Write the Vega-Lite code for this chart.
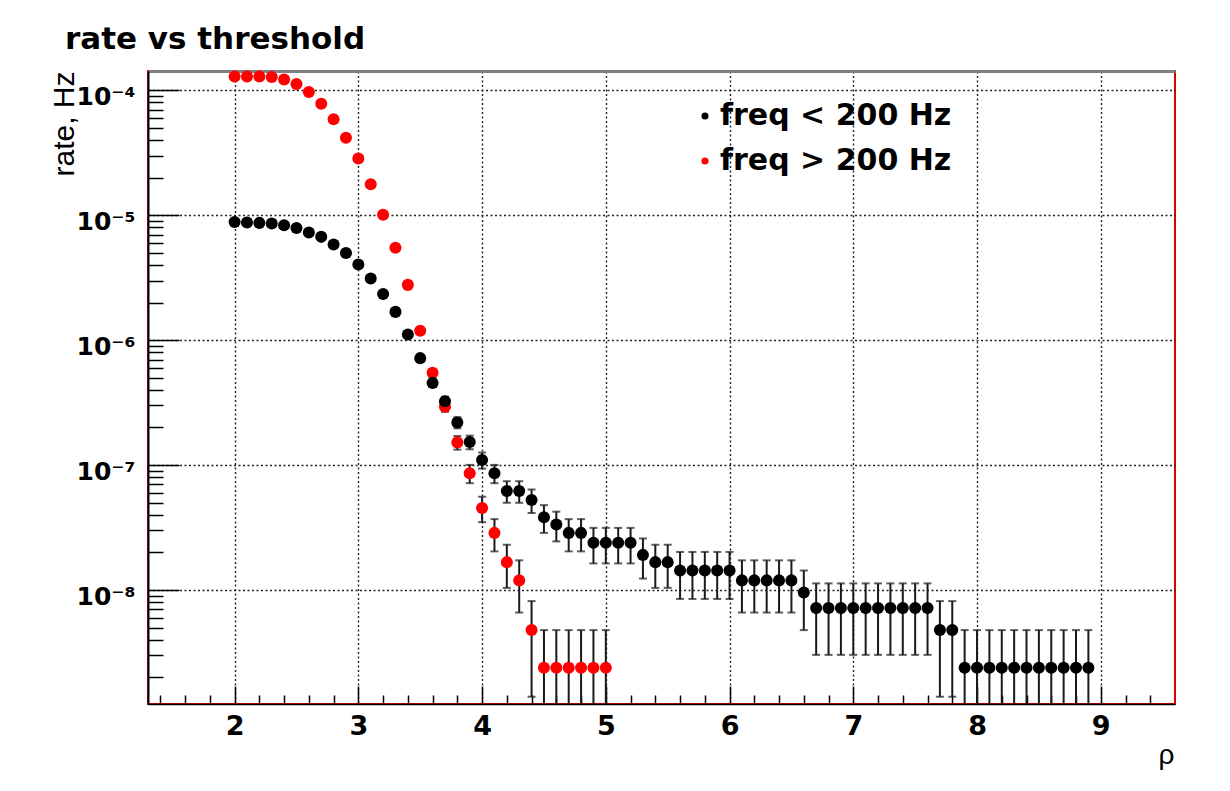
{
  "$schema": "https://vega.github.io/schema/vega-lite/v6.json",
  "width": 1027,
  "height": 633,
  "autosize": {"type": "none"},
  "padding": {"left": 148, "top": 71, "right": 55, "bottom": 87},
  "background": "white",
  "config": {"view": {"stroke": "#dd0000", "strokeWidth": 2}, "font": "DejaVu Sans"},
  "title": {"text": "rate vs threshold", "anchor": "start", "frame": "group", "dx": -83, "offset": -10, "baseline": "alphabetic", "font": "DejaVu Sans", "fontSize": 31, "fontWeight": "bold", "color": "#000000"},
  "data": {"values": [
    {"x": 2.0, "r": 1.29e-4, "lo": 1.29e-4, "hi": 1.29e-4, "s": "freq > 200 Hz"},
    {"x": 2.1, "r": 1.29e-4, "lo": 1.29e-4, "hi": 1.29e-4, "s": "freq > 200 Hz"},
    {"x": 2.2, "r": 1.29e-4, "lo": 1.29e-4, "hi": 1.29e-4, "s": "freq > 200 Hz"},
    {"x": 2.3, "r": 1.277e-4, "lo": 1.277e-4, "hi": 1.277e-4, "s": "freq > 200 Hz"},
    {"x": 2.4, "r": 1.22e-4, "lo": 1.22e-4, "hi": 1.22e-4, "s": "freq > 200 Hz"},
    {"x": 2.5, "r": 1.12e-4, "lo": 1.12e-4, "hi": 1.12e-4, "s": "freq > 200 Hz"},
    {"x": 2.6, "r": 9.7e-5, "lo": 9.7e-5, "hi": 9.7e-5, "s": "freq > 200 Hz"},
    {"x": 2.7, "r": 7.8e-5, "lo": 7.8e-5, "hi": 7.8e-5, "s": "freq > 200 Hz"},
    {"x": 2.8, "r": 5.86e-5, "lo": 5.86e-5, "hi": 5.86e-5, "s": "freq > 200 Hz"},
    {"x": 2.9, "r": 4.16e-5, "lo": 4.16e-5, "hi": 4.16e-5, "s": "freq > 200 Hz"},
    {"x": 3.0, "r": 2.84e-5, "lo": 2.84e-5, "hi": 2.84e-5, "s": "freq > 200 Hz"},
    {"x": 3.1, "r": 1.77e-5, "lo": 1.77e-5, "hi": 1.77e-5, "s": "freq > 200 Hz"},
    {"x": 3.2, "r": 1.01e-5, "lo": 1.01e-5, "hi": 1.01e-5, "s": "freq > 200 Hz"},
    {"x": 3.3, "r": 5.5e-6, "lo": 5.5e-6, "hi": 5.5e-6, "s": "freq > 200 Hz"},
    {"x": 3.4, "r": 2.77e-6, "lo": 2.77e-6, "hi": 2.77e-6, "s": "freq > 200 Hz"},
    {"x": 3.5, "r": 1.19e-6, "lo": 1.15e-6, "hi": 1.23e-6, "s": "freq > 200 Hz"},
    {"x": 3.6, "r": 5.48e-7, "lo": 5.12e-7, "hi": 5.84e-7, "s": "freq > 200 Hz"},
    {"x": 3.7, "r": 2.93e-7, "lo": 2.67e-7, "hi": 3.19e-7, "s": "freq > 200 Hz"},
    {"x": 3.8, "r": 1.52e-7, "lo": 1.33e-7, "hi": 1.71e-7, "s": "freq > 200 Hz"},
    {"x": 3.9, "r": 8.604e-8, "lo": 7.17e-8, "hi": 1.0038e-7, "s": "freq > 200 Hz"},
    {"x": 4.0, "r": 4.541e-8, "lo": 3.499e-8, "hi": 5.583e-8, "s": "freq > 200 Hz"},
    {"x": 4.1, "r": 2.868e-8, "lo": 2.04e-8, "hi": 3.696e-8, "s": "freq > 200 Hz"},
    {"x": 4.2, "r": 1.673e-8, "lo": 1.041e-8, "hi": 2.305e-8, "s": "freq > 200 Hz"},
    {"x": 4.3, "r": 1.195e-8, "lo": 6.61e-9, "hi": 1.729e-8, "s": "freq > 200 Hz"},
    {"x": 4.4, "r": 4.78e-9, "lo": 1.4e-9, "hi": 8.16e-9, "s": "freq > 200 Hz"},
    {"x": 4.5, "r": 2.39e-9, "lo": 1e-10, "hi": 4.78e-9, "s": "freq > 200 Hz"},
    {"x": 4.6, "r": 2.39e-9, "lo": 1e-10, "hi": 4.78e-9, "s": "freq > 200 Hz"},
    {"x": 4.7, "r": 2.39e-9, "lo": 1e-10, "hi": 4.78e-9, "s": "freq > 200 Hz"},
    {"x": 4.8, "r": 2.39e-9, "lo": 1e-10, "hi": 4.78e-9, "s": "freq > 200 Hz"},
    {"x": 4.9, "r": 2.39e-9, "lo": 1e-10, "hi": 4.78e-9, "s": "freq > 200 Hz"},
    {"x": 5.0, "r": 2.39e-9, "lo": 1e-10, "hi": 4.78e-9, "s": "freq > 200 Hz"},
    {"x": 2.0, "r": 8.84e-6, "lo": 8.84e-6, "hi": 8.84e-6, "s": "freq < 200 Hz"},
    {"x": 2.1, "r": 8.74e-6, "lo": 8.74e-6, "hi": 8.74e-6, "s": "freq < 200 Hz"},
    {"x": 2.2, "r": 8.68e-6, "lo": 8.68e-6, "hi": 8.68e-6, "s": "freq < 200 Hz"},
    {"x": 2.3, "r": 8.58e-6, "lo": 8.58e-6, "hi": 8.58e-6, "s": "freq < 200 Hz"},
    {"x": 2.4, "r": 8.32e-6, "lo": 8.32e-6, "hi": 8.32e-6, "s": "freq < 200 Hz"},
    {"x": 2.5, "r": 7.91e-6, "lo": 7.91e-6, "hi": 7.91e-6, "s": "freq < 200 Hz"},
    {"x": 2.6, "r": 7.27e-6, "lo": 7.27e-6, "hi": 7.27e-6, "s": "freq < 200 Hz"},
    {"x": 2.7, "r": 6.71e-6, "lo": 6.71e-6, "hi": 6.71e-6, "s": "freq < 200 Hz"},
    {"x": 2.8, "r": 5.83e-6, "lo": 5.83e-6, "hi": 5.83e-6, "s": "freq < 200 Hz"},
    {"x": 2.9, "r": 4.99e-6, "lo": 4.99e-6, "hi": 4.99e-6, "s": "freq < 200 Hz"},
    {"x": 3.0, "r": 4.03e-6, "lo": 4.03e-6, "hi": 4.03e-6, "s": "freq < 200 Hz"},
    {"x": 3.1, "r": 3.12e-6, "lo": 3.12e-6, "hi": 3.12e-6, "s": "freq < 200 Hz"},
    {"x": 3.2, "r": 2.34e-6, "lo": 2.34e-6, "hi": 2.34e-6, "s": "freq < 200 Hz"},
    {"x": 3.3, "r": 1.684e-6, "lo": 1.684e-6, "hi": 1.684e-6, "s": "freq < 200 Hz"},
    {"x": 3.4, "r": 1.11e-6, "lo": 1.11e-6, "hi": 1.11e-6, "s": "freq < 200 Hz"},
    {"x": 3.5, "r": 7.18e-7, "lo": 6.76e-7, "hi": 7.6e-7, "s": "freq < 200 Hz"},
    {"x": 3.6, "r": 4.55e-7, "lo": 4.22e-7, "hi": 4.88e-7, "s": "freq < 200 Hz"},
    {"x": 3.7, "r": 3.25e-7, "lo": 2.97e-7, "hi": 3.53e-7, "s": "freq < 200 Hz"},
    {"x": 3.8, "r": 2.196e-7, "lo": 1.97e-7, "hi": 2.42e-7, "s": "freq < 200 Hz"},
    {"x": 3.9, "r": 1.5296e-7, "lo": 1.3384e-7, "hi": 1.7208e-7, "s": "freq < 200 Hz"},
    {"x": 4.0, "r": 1.0994e-7, "lo": 9.373e-8, "hi": 1.2615e-7, "s": "freq < 200 Hz"},
    {"x": 4.1, "r": 8.604e-8, "lo": 7.17e-8, "hi": 1.0038e-7, "s": "freq < 200 Hz"},
    {"x": 4.2, "r": 6.214e-8, "lo": 4.995e-8, "hi": 7.433e-8, "s": "freq < 200 Hz"},
    {"x": 4.3, "r": 6.214e-8, "lo": 4.995e-8, "hi": 7.433e-8, "s": "freq < 200 Hz"},
    {"x": 4.4, "r": 5.258e-8, "lo": 4.137e-8, "hi": 6.379e-8, "s": "freq < 200 Hz"},
    {"x": 4.5, "r": 3.824e-8, "lo": 2.868e-8, "hi": 4.78e-8, "s": "freq < 200 Hz"},
    {"x": 4.6, "r": 3.346e-8, "lo": 2.452e-8, "hi": 4.24e-8, "s": "freq < 200 Hz"},
    {"x": 4.7, "r": 2.868e-8, "lo": 2.04e-8, "hi": 3.696e-8, "s": "freq < 200 Hz"},
    {"x": 4.8, "r": 2.868e-8, "lo": 2.04e-8, "hi": 3.696e-8, "s": "freq < 200 Hz"},
    {"x": 4.9, "r": 2.39e-8, "lo": 1.634e-8, "hi": 3.146e-8, "s": "freq < 200 Hz"},
    {"x": 5.0, "r": 2.39e-8, "lo": 1.634e-8, "hi": 3.146e-8, "s": "freq < 200 Hz"},
    {"x": 5.1, "r": 2.39e-8, "lo": 1.634e-8, "hi": 3.146e-8, "s": "freq < 200 Hz"},
    {"x": 5.2, "r": 2.39e-8, "lo": 1.634e-8, "hi": 3.146e-8, "s": "freq < 200 Hz"},
    {"x": 5.3, "r": 1.912e-8, "lo": 1.236e-8, "hi": 2.588e-8, "s": "freq < 200 Hz"},
    {"x": 5.4, "r": 1.673e-8, "lo": 1.041e-8, "hi": 2.305e-8, "s": "freq < 200 Hz"},
    {"x": 5.5, "r": 1.673e-8, "lo": 1.041e-8, "hi": 2.305e-8, "s": "freq < 200 Hz"},
    {"x": 5.6, "r": 1.434e-8, "lo": 8.49e-9, "hi": 2.019e-8, "s": "freq < 200 Hz"},
    {"x": 5.7, "r": 1.434e-8, "lo": 8.49e-9, "hi": 2.019e-8, "s": "freq < 200 Hz"},
    {"x": 5.8, "r": 1.434e-8, "lo": 8.49e-9, "hi": 2.019e-8, "s": "freq < 200 Hz"},
    {"x": 5.9, "r": 1.434e-8, "lo": 8.49e-9, "hi": 2.019e-8, "s": "freq < 200 Hz"},
    {"x": 6.0, "r": 1.434e-8, "lo": 8.49e-9, "hi": 2.019e-8, "s": "freq < 200 Hz"},
    {"x": 6.1, "r": 1.195e-8, "lo": 6.61e-9, "hi": 1.729e-8, "s": "freq < 200 Hz"},
    {"x": 6.2, "r": 1.195e-8, "lo": 6.61e-9, "hi": 1.729e-8, "s": "freq < 200 Hz"},
    {"x": 6.3, "r": 1.195e-8, "lo": 6.61e-9, "hi": 1.729e-8, "s": "freq < 200 Hz"},
    {"x": 6.4, "r": 1.195e-8, "lo": 6.61e-9, "hi": 1.729e-8, "s": "freq < 200 Hz"},
    {"x": 6.5, "r": 1.195e-8, "lo": 6.61e-9, "hi": 1.729e-8, "s": "freq < 200 Hz"},
    {"x": 6.6, "r": 9.56e-9, "lo": 4.78e-9, "hi": 1.434e-8, "s": "freq < 200 Hz"},
    {"x": 6.7, "r": 7.17e-9, "lo": 3.03e-9, "hi": 1.131e-8, "s": "freq < 200 Hz"},
    {"x": 6.8, "r": 7.17e-9, "lo": 3.03e-9, "hi": 1.131e-8, "s": "freq < 200 Hz"},
    {"x": 6.9, "r": 7.17e-9, "lo": 3.03e-9, "hi": 1.131e-8, "s": "freq < 200 Hz"},
    {"x": 7.0, "r": 7.17e-9, "lo": 3.03e-9, "hi": 1.131e-8, "s": "freq < 200 Hz"},
    {"x": 7.1, "r": 7.17e-9, "lo": 3.03e-9, "hi": 1.131e-8, "s": "freq < 200 Hz"},
    {"x": 7.2, "r": 7.17e-9, "lo": 3.03e-9, "hi": 1.131e-8, "s": "freq < 200 Hz"},
    {"x": 7.3, "r": 7.17e-9, "lo": 3.03e-9, "hi": 1.131e-8, "s": "freq < 200 Hz"},
    {"x": 7.4, "r": 7.17e-9, "lo": 3.03e-9, "hi": 1.131e-8, "s": "freq < 200 Hz"},
    {"x": 7.5, "r": 7.17e-9, "lo": 3.03e-9, "hi": 1.131e-8, "s": "freq < 200 Hz"},
    {"x": 7.6, "r": 7.17e-9, "lo": 3.03e-9, "hi": 1.131e-8, "s": "freq < 200 Hz"},
    {"x": 7.7, "r": 4.78e-9, "lo": 1.4e-9, "hi": 8.16e-9, "s": "freq < 200 Hz"},
    {"x": 7.8, "r": 4.78e-9, "lo": 1.4e-9, "hi": 8.16e-9, "s": "freq < 200 Hz"},
    {"x": 7.9, "r": 2.39e-9, "lo": 1e-10, "hi": 4.78e-9, "s": "freq < 200 Hz"},
    {"x": 8.0, "r": 2.39e-9, "lo": 1e-10, "hi": 4.78e-9, "s": "freq < 200 Hz"},
    {"x": 8.1, "r": 2.39e-9, "lo": 1e-10, "hi": 4.78e-9, "s": "freq < 200 Hz"},
    {"x": 8.2, "r": 2.39e-9, "lo": 1e-10, "hi": 4.78e-9, "s": "freq < 200 Hz"},
    {"x": 8.3, "r": 2.39e-9, "lo": 1e-10, "hi": 4.78e-9, "s": "freq < 200 Hz"},
    {"x": 8.4, "r": 2.39e-9, "lo": 1e-10, "hi": 4.78e-9, "s": "freq < 200 Hz"},
    {"x": 8.5, "r": 2.39e-9, "lo": 1e-10, "hi": 4.78e-9, "s": "freq < 200 Hz"},
    {"x": 8.6, "r": 2.39e-9, "lo": 1e-10, "hi": 4.78e-9, "s": "freq < 200 Hz"},
    {"x": 8.7, "r": 2.39e-9, "lo": 1e-10, "hi": 4.78e-9, "s": "freq < 200 Hz"},
    {"x": 8.8, "r": 2.39e-9, "lo": 1e-10, "hi": 4.78e-9, "s": "freq < 200 Hz"},
    {"x": 8.9, "r": 2.39e-9, "lo": 1e-10, "hi": 4.78e-9, "s": "freq < 200 Hz"}
  ]},
  "resolve": {"axis": {"x": "independent", "y": "independent"}},
  "layer": [
    {
      "mark": {"type": "rule", "color": "#1a1a1a", "strokeWidth": 2, "clip": true},
      "encoding": {
        "x": {"field": "x", "type": "quantitative", "scale": {"domain": [1.3, 9.6], "nice": false, "zero": false},
              "axis": {"orient": "bottom", "values": [1.4,1.6,1.8,2.2,2.4,2.6,2.8,3.2,3.4,3.6,3.8,4.2,4.4,4.6,4.8,5.2,5.4,5.6,5.8,6.2,6.4,6.6,6.8,7.2,7.4,7.6,7.8,8.2,8.4,8.6,8.8,9.2,9.4],
                       "labels": false, "tickSize": -9, "tickWidth": 1.5, "tickColor": "#000000", "domain": false, "grid": false, "title": null}},
        "y": {"field": "lo", "type": "quantitative", "scale": {"type": "log", "domain": [1.225e-9, 1.426e-4], "nice": false},
              "axis": {"orient": "left", "values": [2e-9,3e-9,4e-9,5e-9,6e-9,7e-9,8e-9,9e-9,2e-8,3e-8,4e-8,5e-8,6e-8,7e-8,8e-8,9e-8,2e-7,3e-7,4e-7,5e-7,6e-7,7e-7,8e-7,9e-7,2e-6,3e-6,4e-6,5e-6,6e-6,7e-6,8e-6,9e-6,2e-5,3e-5,4e-5,5e-5,6e-5,7e-5,8e-5,9e-5],
                       "labels": false, "tickSize": -15, "tickWidth": 1.5, "tickColor": "#000000", "domain": false, "grid": false, "title": null}},
        "y2": {"field": "hi"}
      }
    },
    {
      "mark": {"type": "tick", "orient": "horizontal", "size": 8, "thickness": 2, "color": "#1a1a1a", "clip": true},
      "encoding": {
        "x": {"field": "x", "type": "quantitative", "scale": {"domain": [1.3, 9.6], "nice": false, "zero": false},
              "axis": {"orient": "top", "labels": false, "ticks": false, "grid": false, "domainColor": "#808080", "domainWidth": 3, "title": null}},
        "y": {"field": "hi", "type": "quantitative", "scale": {"type": "log", "domain": [1.225e-9, 1.426e-4], "nice": false}, "axis": null}
      }
    },
    {
      "mark": {"type": "tick", "orient": "horizontal", "size": 8, "thickness": 2, "color": "#1a1a1a", "clip": true},
      "encoding": {
        "x": {"field": "x", "type": "quantitative", "scale": {"domain": [1.3, 9.6], "nice": false, "zero": false}, "axis": null},
        "y": {"field": "lo", "type": "quantitative", "scale": {"type": "log", "domain": [1.225e-9, 1.426e-4], "nice": false}, "axis": null}
      }
    },
    {
      "mark": {"type": "circle", "size": 145, "opacity": 1},
      "encoding": {
        "x": {"field": "x", "type": "quantitative", "scale": {"domain": [1.3, 9.6], "nice": false, "zero": false},
              "axis": {"orient": "bottom", "values": [2,3,4,5,6,7,8,9], "tickSize": -18, "tickWidth": 1.5, "tickColor": "#000000",
                       "domainColor": "#000000", "domainWidth": 1.5,
                       "grid": true, "gridColor": "#222222", "gridDash": [2, 2.5], "gridWidth": 1.4,
                       "labelFont": "DejaVu Sans", "labelFontWeight": "bold", "labelFontSize": 27, "labelColor": "#000000", "labelPadding": 27, "labelFlush": false,
                       "title": "ρ", "titleFont": "Liberation Sans", "titleFontSize": 28, "titleFontWeight": "normal", "titleColor": "#000000",
                       "titleX": 1018, "titleY": 59, "titleAlign": "center", "titleBaseline": "alphabetic"}},
        "y": {"field": "r", "type": "quantitative", "scale": {"type": "log", "domain": [1.225e-9, 1.426e-4], "nice": false},
              "axis": {"orient": "left", "values": [1e-8, 1e-7, 1e-6, 1e-5, 1e-4], "tickSize": -31, "tickWidth": 1.5, "tickColor": "#000000",
                       "domainColor": "#000000", "domainWidth": 2,
                       "grid": true, "gridColor": "#222222", "gridDash": [2, 2.5], "gridWidth": 1.4,
                       "labelExpr": "datum.value < 5e-8 ? '10⁻⁸' : datum.value < 5e-7 ? '10⁻⁷' : datum.value < 5e-6 ? '10⁻⁶' : datum.value < 5e-5 ? '10⁻⁵' : '10⁻⁴'",
                       "labelFont": "DejaVu Sans", "labelFontWeight": "bold", "labelFontSize": 25, "labelColor": "#000000", "labelPadding": 44, "labelOffset": 6, "labelFlush": false,
                       "title": "rate, Hz", "titleFont": "Liberation Sans", "titleFontSize": 30, "titleFontWeight": "normal", "titleColor": "#000000",
                       "titleAngle": 270, "titleAlign": "right", "titleBaseline": "alphabetic", "titleX": -75, "titleY": 0}},
        "color": {"field": "s", "type": "nominal",
                  "scale": {"domain": ["freq < 200 Hz", "freq > 200 Hz"], "range": ["#000000", "#ff0000"]},
                  "legend": {"orient": "none", "legendX": 542, "legendY": 30, "title": null, "padding": 0,
                             "symbolType": "circle", "symbolSize": 50, "symbolStrokeWidth": 0,
                             "labelFont": "DejaVu Sans", "labelFontWeight": "bold", "labelFontSize": 30, "labelOffset": 0, "labelLimit": 400,
                             "rowPadding": 15,
                             "encode": {"labels": {"update": {"fill": {"signal": "datum.label === 'freq > 200 Hz' ? '#ff0000' : '#000000'"}}}}}}
      }
    }
  ]
}
